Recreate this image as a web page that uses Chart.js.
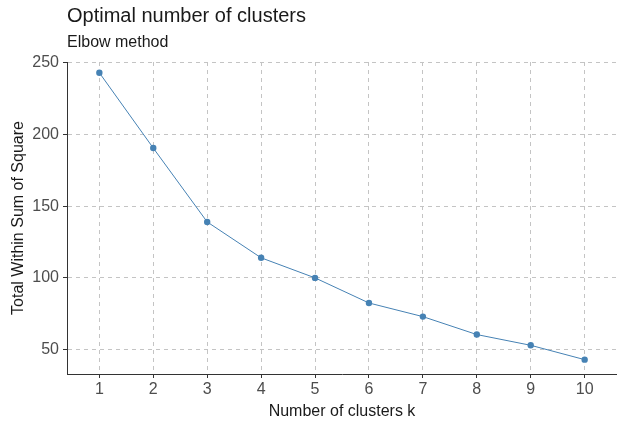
<!DOCTYPE html>
<html>
<head>
<meta charset="utf-8">
<script src="https://cdn.jsdelivr.net/npm/chart.js@4/dist/chart.umd.min.js"></script>
<style>
  body { margin: 0; background: #fff; }
  #wrap { width: 617px; height: 426px; }
</style>
</head>
<body>
<div id="wrap"><canvas id="myChart" width="617" height="426"></canvas></div>
<script>
// elbow curve values
const clusters = [1, 2, 3, 4, 5, 6, 7, 8, 9, 10];
const withinSS = [243, 190.5, 139, 114, 100, 82.5, 73, 60.5, 53, 43];
const yTicks = [50, 100, 150, 200, 250];

const titleText = "Optimal number of clusters";
const subtitleText = "Elbow method";

const FONT = "'Liberation Sans', Arial, sans-serif";

// ggplot style headings, left aligned with the panel
const headings = {
  id: 'headings',
  afterDraw(chart) {
    const ctx = chart.ctx;
    const left = chart.chartArea.left;
    ctx.save();
    ctx.fillStyle = '#1a1a1a';
    ctx.textAlign = 'left';
    ctx.textBaseline = 'alphabetic';
    ctx.font = "20px " + FONT;
    ctx.fillText(titleText, left, 22);
    ctx.font = "16px " + FONT;
    ctx.fillText(subtitleText, left, 47);
    ctx.restore();
  }
};

const ctx = document.getElementById('myChart').getContext('2d');

new Chart(ctx, {
  type: 'line',
  data: {
    datasets: [
      {
        label: 'Total Within Sum of Square',
        data: clusters.map((k, i) => ({ x: k, y: withinSS[i] })),
        borderColor: '#4682B4',
        backgroundColor: '#4682B4',
        borderWidth: 1,
        pointRadius: 3.2,
        pointHoverRadius: 3.2,
        pointBorderWidth: 0,
        fill: false,
        tension: 0
      }
    ]
  },
  options: {
    responsive: false,
    animation: false,
    // no extra room for point overflow, panel runs to the right edge
    layout: { autoPadding: false, padding: { top: 62, right: 0, bottom: 0, left: 0 } },
    plugins: {
      legend: { display: false },
      tooltip: { enabled: false }
    },
    scales: {
      x: {
        type: 'linear',
        min: 0.4,
        max: 10.6,
        afterFit(scale) { scale.height = 52; },
        afterBuildTicks(scale) { scale.ticks = clusters.map(v => ({ value: v })); },
        grid: {
          color: '#c4c4c4',
          lineWidth: 1,
          drawTicks: true,
          tickLength: 4,
          tickColor: '#333',
          tickBorderDash: [],
          tickWidth: 1
        },
        border: { display: true, color: '#333', width: 1, dash: [4, 4] },
        ticks: {
          color: '#4d4d4d',
          padding: 2,
          maxRotation: 0,
          font: { family: FONT, size: 16 }
        },
        title: {
          display: true,
          text: 'Number of clusters k',
          color: '#1a1a1a',
          font: { family: FONT, size: 16 },
          padding: { top: 0, bottom: 5 }
        }
      },
      y: {
        min: 33,
        max: 250.5,
        afterFit(scale) { scale.width = 67; },
        afterBuildTicks(scale) { scale.ticks = yTicks.map(v => ({ value: v })); },
        grid: {
          color: '#c4c4c4',
          lineWidth: 1,
          drawTicks: true,
          tickLength: 4,
          tickColor: '#333',
          tickBorderDash: [],
          tickWidth: 1
        },
        border: { display: true, color: '#333', width: 1, dash: [4, 4] },
        ticks: {
          color: '#4d4d4d',
          padding: 4,
          font: { family: FONT, size: 16 }
        },
        title: {
          display: true,
          text: 'Total Within Sum of Square',
          color: '#1a1a1a',
          font: { family: FONT, size: 16 },
          padding: { top: 9, bottom: 0 }
        }
      }
    }
  },
  plugins: [headings]
});
</script>
</body>
</html>
